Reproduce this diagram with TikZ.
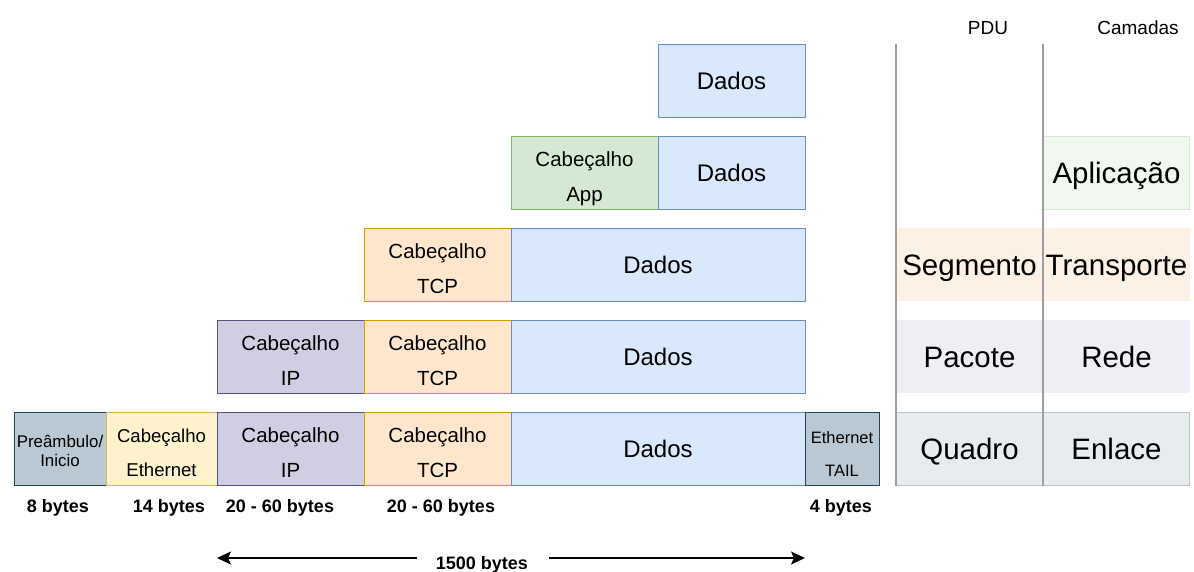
\documentclass[tikz,border=0pt]{standalone}
\usepackage{fontspec}
\setmainfont{Liberation Sans}
\usetikzlibrary{positioning,arrows.meta}

\definecolor{dadosfill}{HTML}{DAE8FC}
\definecolor{dadosline}{HTML}{6C8EBF}
\definecolor{appfill}{HTML}{D5E8D4}
\definecolor{appline}{HTML}{82B366}
\definecolor{tcpfill}{HTML}{FFE6CC}
\definecolor{tcpline}{HTML}{D79B00}
\definecolor{ipfill}{HTML}{D0CEE2}
\definecolor{ipline}{HTML}{56517E}
\definecolor{ethfill}{HTML}{FFF2CC}
\definecolor{ethline}{HTML}{D6B656}
\definecolor{prefill}{HTML}{BAC8D3}
\definecolor{preline}{HTML}{23445D}
\definecolor{divline}{HTML}{9E9E9E}
\definecolor{segfill}{HTML}{FDF0E4}
\definecolor{pacfill}{HTML}{EFEEF5}
\definecolor{quafill}{HTML}{E8ECEF}
\definecolor{qualine}{HTML}{B8C4CC}
\definecolor{aplfill}{HTML}{F0F8EF}
\definecolor{aplline}{HTML}{D5E8D4}

\begin{document}
\begin{tikzpicture}[x=1pt, y=-1pt, node distance=0pt,
    box/.style={rectangle, draw, line width=1pt, minimum height=73pt, inner sep=0pt, outer sep=0pt, align=center},
    dados/.style={box, fill=dadosfill, draw=dadosline, font=\fontsize{24}{28}\selectfont},
    header/.style={box, minimum width=147pt, text height=57.7pt, text depth=0pt, font=\fontsize{20.5}{35}\selectfont},
    app/.style={header, fill=appfill, draw=appline},
    tcp/.style={header, fill=tcpfill, draw=tcpline},
    ip/.style={header, fill=ipfill, draw=ipline},
    eth/.style={header, minimum width=111pt, text height=56.3pt, fill=ethfill, draw=ethline, font=\fontsize{18.6}{34}\selectfont},
    pre/.style={box, minimum width=92pt, text height=35.1pt, text depth=0pt, fill=prefill, draw=preline, font=\fontsize{16.9}{19}\selectfont},
    tail/.style={box, minimum width=74pt, text height=56.8pt, text depth=0pt, fill=prefill, draw=preline, font=\fontsize{16.5}{33}\selectfont},
    bytes/.style={inner sep=0pt, font=\fontsize{18}{21}\selectfont\bfseries},
    titulo/.style={inner sep=0pt, font=\fontsize{19}{22}\selectfont},
    camada/.style={rectangle, minimum width=146pt, minimum height=73pt, inner sep=0pt, outer sep=0pt, line width=1pt, text height=24pt, text depth=2.9pt, font=\fontsize{29.5}{33}\selectfont},
    divisor/.style={draw=divline, line width=1.2pt},
    seta/.style={draw, -{Stealth[length=14pt, width=13pt, inset=3pt]}, line width=1.2pt, shorten <=19pt}]

    \useasboundingbox (0,0) rectangle (1194,571);

    % dados da aplicacao
    \node [dados, minimum width=147pt] (dados1) at (731.5,80.5) {Dados};

    % aplicacao
    \node [app] (app2) at (584.5,172.5) {Cabeçalho\\App};
    \node [dados, minimum width=147pt, right=of app2] (dados2) {Dados};

    % transporte
    \node [tcp] (tcp3) at (437.5,264.5) {Cabeçalho\\TCP};
    \node [dados, minimum width=294pt, right=of tcp3] (dados3) {Dados};

    % rede
    \node [ip] (ip4) at (290.5,356.5) {Cabeçalho\\IP};
    \node [tcp, right=of ip4] (tcp4) {Cabeçalho\\TCP};
    \node [dados, minimum width=294pt, right=of tcp4] (dados4) {Dados};

    % enlace
    \node [pre] (pre5) at (60,448.5) {Preâmbulo/\\Inicio};
    \node [eth, right=of pre5] (eth5) {Cabeçalho\\Ethernet};
    \node [ip, right=of eth5] (ip5) {Cabeçalho\\IP};
    \node [tcp, right=of ip5] (tcp5) {Cabeçalho\\TCP};
    \node [dados, minimum width=294pt, right=of tcp5] (dados5) {Dados};
    \node [tail, right=of dados5] (tail5) {Ethernet\\TAIL};

    % tamanhos
    \node [bytes] (b8) at (58,508) {8 bytes};
    \node [bytes] (b14) at (169,508) {14 bytes};
    \node [bytes] (bip) at (280,508) {20 - 60 bytes};
    \node [bytes] (btcp) at (441,508) {20 - 60 bytes};
    \node [bytes] (b4) at (841,508) {4 bytes};
    \node [bytes] (b1500) at (482,564.5) {1500 bytes};
    \coordinate (limE) at (217,558);
    \coordinate (limD) at (805,558);
    \path [seta] (b1500.west |- limE) -- (limE);
    \path [seta, shorten <=21pt] (b1500.east |- limD) -- (limD);

    % PDU e camadas
    \node [titulo] (pdu) at (988,28) {PDU};
    \node [titulo] (camadas) at (1138,28) {Camadas};
    \node [camada, fill=aplfill, draw=aplline] (aplicacao) at (1116.5,172.5) {Aplicação};
    \node [camada, fill=segfill] (segmento) at (969.5,264.5) {Segmento};
    \node [camada, fill=segfill] (transporte) at (1116.5,264.5) {Transporte};
    \node [camada, fill=pacfill] (pacote) at (969.5,356.5) {Pacote};
    \node [camada, fill=pacfill] (rede) at (1116.5,356.5) {Rede};
    \node [camada, fill=quafill, draw=qualine] (quadro) at (969.5,448.5) {Quadro};
    \node [camada, fill=quafill, draw=qualine] (enlace) at (1116.5,448.5) {Enlace};
    \path [divisor] (896,44) -- (896,486);
    \path [divisor] (1043,44) -- (1043,486);
\end{tikzpicture}
\end{document}
